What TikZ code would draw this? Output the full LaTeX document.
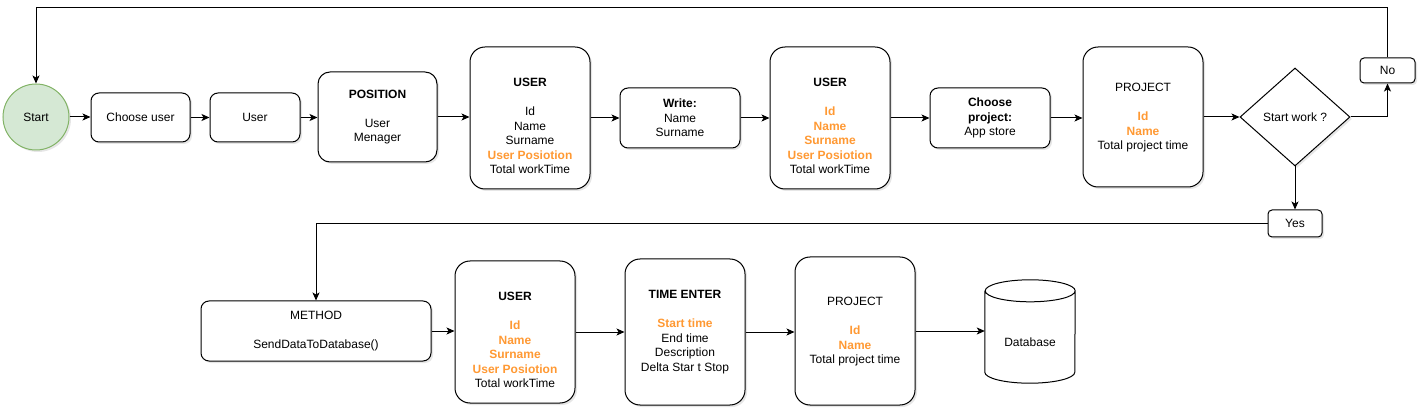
\documentclass[tikz,border=0pt]{standalone}
\usepackage{fontspec}
\setmainfont{Liberation Sans}
\usepackage{xcolor}
\usetikzlibrary{arrows.meta,shapes.geometric,shadows}
\definecolor{keyorange}{HTML}{FF9933}
\definecolor{startfill}{HTML}{D5E8D4}
\definecolor{startline}{HTML}{82B366}
\newcommand{\field}[1]{\textcolor{keyorange}{\textbf{#1}}}
\newcommand{\gap}{\\[14.5pt]}

\begin{document}
\begin{tikzpicture}[x=1pt,y=1pt,
  font=\fontsize{12}{14.5}\selectfont,
  shade/.style={drop shadow={shadow xshift=2pt,shadow yshift=-2pt,opacity=0.2}},
  box/.style={draw, line width=1pt, fill=white, rounded corners=#1, align=center, inner sep=2pt, shade},
  box/.default=8pt,
  tall/.style={box=15pt, minimum width=120pt, minimum height=142pt},
  arr/.style={line width=1pt, -{Stealth[length=8pt,width=7pt,inset=2pt]}}]
  \useasboundingbox (0,0) rectangle (1427,418);

  % first row
  \node[circle, draw=startline, fill=startfill, line width=1pt, minimum size=66pt, inner sep=0pt, shade] (start) at (36,301) {Start};
  \node[box, minimum width=99pt, minimum height=49pt] (chuser) at (140.5,300.5) {Choose user};
  \node[box, minimum width=90pt, minimum height=49pt] (user) at (255,300.5) {User};
  \node[box=12pt, minimum width=119pt, minimum height=90pt] (position) at (377.5,301) {\textbf{POSITION}\gap User\\Menager};
  \node[tall] (userA) at (530,300) {\strut\\\textbf{USER}\gap Id\\Name\\Surname\\\field{User Posiotion}\\Total workTime};
  \node[box, minimum width=120pt, minimum height=60pt] (write) at (680,300) {\textbf{Write:}\\Name\\Surname};
  \node[tall] (userB) at (830,300) {\strut\\\textbf{USER}\gap\field{Id}\\\field{Name}\\\field{Surname}\\\field{User Posiotion}\\Total workTime};
  \node[box, minimum width=120pt, minimum height=60pt] (chproject) at (990,300) {\textbf{Choose}\\\textbf{project:}\\App store};
  \node[box=15pt, minimum width=120pt, minimum height=140pt] (projectA) at (1143,301) {\strut PROJECT\gap\field{Id}\\\field{Name}\\Total project time};
  \node[diamond, draw, line width=1pt, fill=white, inner sep=0pt, aspect=1.12, minimum width=110pt, minimum height=98pt, shade] (startwork) at (1295,301) {Start work ?};
  \node[box=4pt, minimum width=55pt, minimum height=25pt] (no) at (1387.5,347.5) {No};
  \node[box=4pt, minimum width=54pt, minimum height=27pt] (yes) at (1295,194.5) {Yes};
  \coordinate (loop) at (36,410);

  % second row
  \node[box, minimum width=230pt, minimum height=60pt] (method) at (316,87) {METHOD\gap SendDataToDatabase()};
  \node[tall] (userC) at (515,86) {\strut\\\textbf{USER}\gap\field{Id}\\\field{Name}\\\field{Surname}\\\field{User Posiotion}\\Total workTime};
  \node[box=15pt, minimum width=120pt, minimum height=146pt] (timeenter) at (685,86) {\textbf{TIME ENTER}\gap\field{Start time}\\End time\\Description\\Delta Star t Stop};
  \node[box=15pt, minimum width=120pt, minimum height=148pt] (projectB) at (855,87) {\strut PROJECT\gap\field{Id}\\\field{Name}\\Total project time};
  \node[minimum width=90pt, minimum height=81pt, inner sep=0pt] (db) at (1030,75.5) {Database};
  \draw[line width=1pt] ([yshift=11pt]db.north west) -- ([yshift=11pt]db.south west)
    arc[start angle=180, end angle=360, x radius=45pt, y radius=11pt]
    -- ([yshift=11pt]db.north east)
    arc[start angle=0, end angle=180, x radius=45pt, y radius=11pt]
    arc[start angle=180, end angle=360, x radius=45pt, y radius=11pt];

  % connectors
  \foreach \a/\b in {start/chuser, chuser/user, user/position, position/userA, userA/write,
    write/userB, userB/chproject, chproject/projectA, projectA/startwork,
    method/userC, userC/timeenter, timeenter/projectB, projectB/db}
    \draw[arr] (\a.east) -- (\a.east -| \b.west);
  \draw[arr] (startwork.east) -| (no.south);
  \draw[arr] (no.north) |- (loop) -- (start.north);
  \draw[arr] (startwork.south) -- (yes.north);
  \draw[arr] (yes.west) -| (method.north);
\end{tikzpicture}
\end{document}
